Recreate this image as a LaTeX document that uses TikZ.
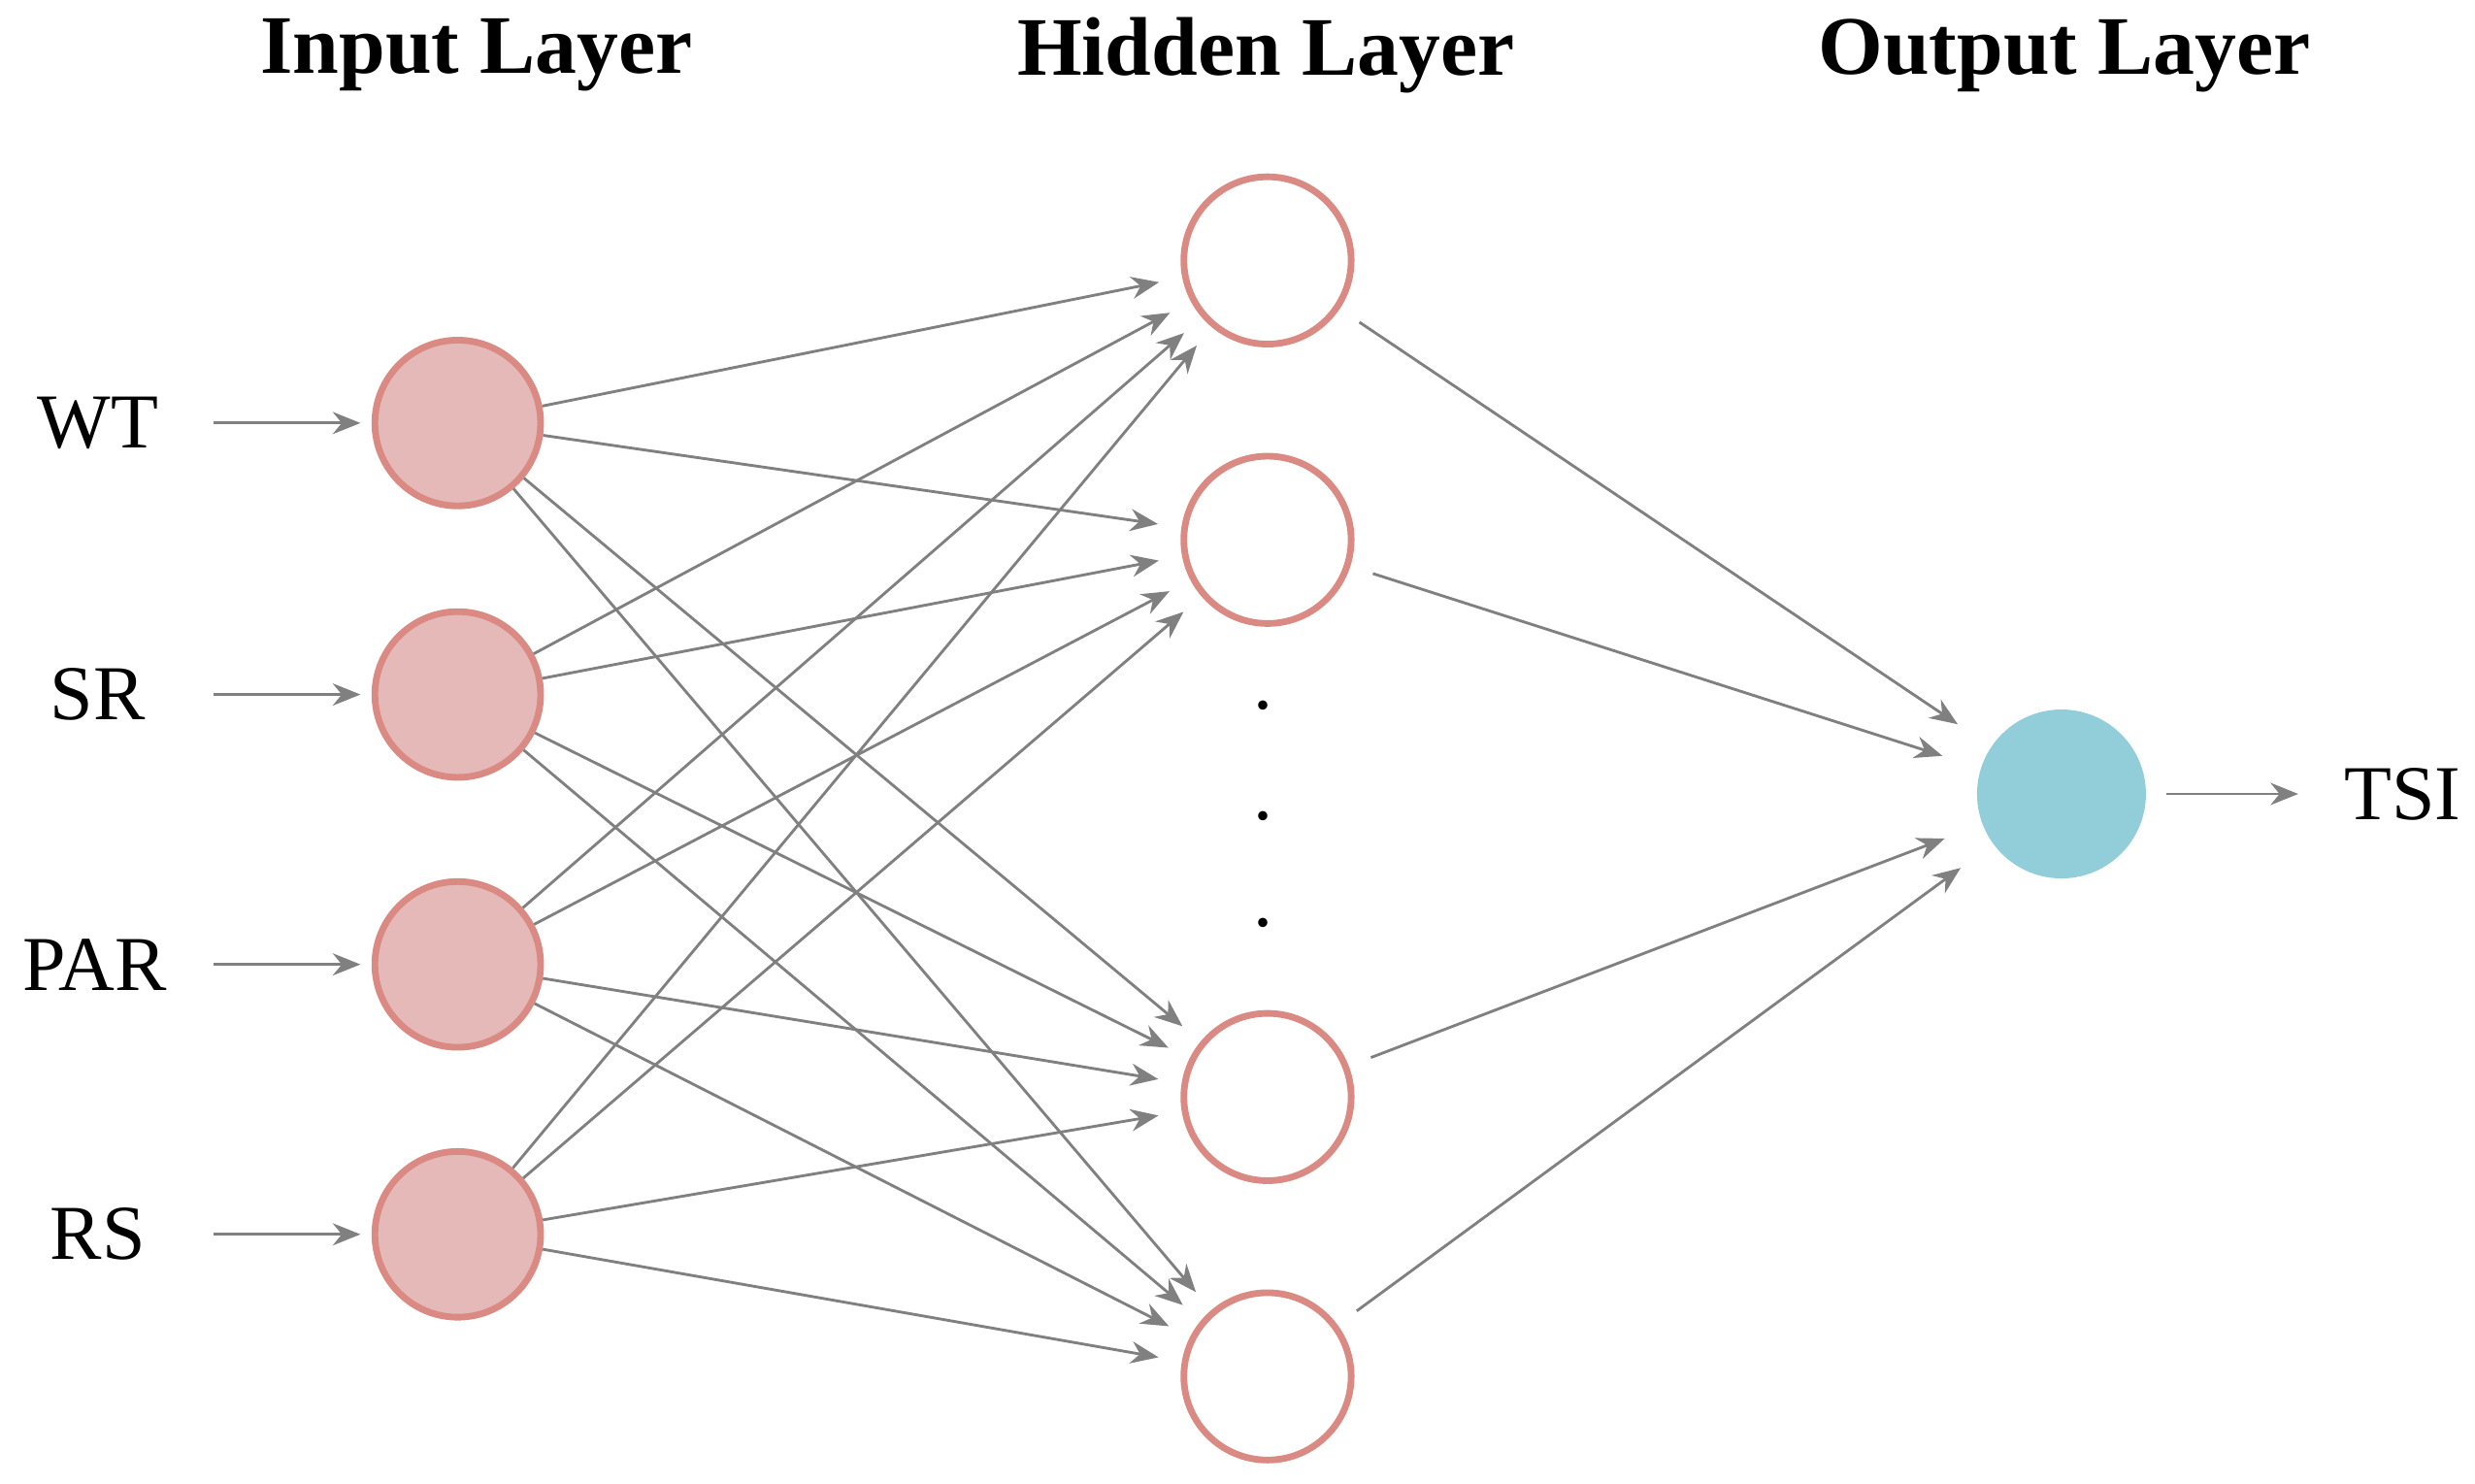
\documentclass[tikz,border=0pt]{standalone}
\usepackage{fontspec}
\setmainfont{Liberation Serif}
\usetikzlibrary{arrows.meta}
\definecolor{inpink}{HTML}{E4B9B7}
\definecolor{rosered}{HTML}{DA8A83}
\definecolor{outblue}{HTML}{92CDDA}
\definecolor{edgegray}{HTML}{808080}
\begin{document}
\begin{tikzpicture}[
    font=\fontsize{14}{16}\selectfont,
    inp/.style={draw=rosered, line width=1.2pt, fill=inpink, circle, minimum size=1.05cm},
    hid/.style={draw=rosered, line width=1.2pt, fill=white, circle, minimum size=1.06cm},
    outp/.style={circle, fill=outblue, minimum size=1.07cm},
    conn/.style={draw=edgegray, line width=0.5pt, -{Stealth[length=5pt,width=4pt]}},
    title/.style={font=\fontsize{15}{17}\selectfont\bfseries}]
        \useasboundingbox (0,0) rectangle (15.68,9.40);

        % Titles
        \node[title] (ti) at (3.02,9.05) {Input Layer};
        \node[title] (th) at (8.02,9.05) {Hidden Layer};
        \node[title] (to) at (13.08,9.05) {Output Layer};

        % Input layer
        \node[inp] (i1) at (2.90,6.72) {};
        \node[inp] (i2) at (2.90,5.00) {};
        \node[inp] (i3) at (2.90,3.29) {};
        \node[inp] (i4) at (2.90,1.58) {};

        \node (l1) at (0.62,6.72) {WT};
        \node (l2) at (0.62,5.00) {SR};
        \node (l3) at (0.60,3.29) {PAR};
        \node (l4) at (0.62,1.58) {RS};
        \coordinate (a1) at (1.35,6.72);
        \coordinate (a2) at (1.35,5.00);
        \coordinate (a3) at (1.35,3.29);
        \coordinate (a4) at (1.35,1.58);

        % Hidden layer
        \node[hid] (h1) at (8.03,7.75) {};
        \node[hid] (h2) at (8.03,5.98) {};
        \node[hid] (h3) at (8.03,2.45) {};
        \node[hid] (h4) at (8.03,0.68) {};
        \node (d1) at (8.00,4.93) {.};
        \node (d2) at (8.00,4.23) {.};
        \node (d3) at (8.00,3.55) {.};

        % Output layer
        \node[outp] (o) at (13.06,4.37) {};
        \node (lo) at (15.22,4.37) {TSI};
        \coordinate (ao) at (14.56,4.37);

        % Draw the edges
        \foreach \k in {1,...,4}
            \draw[conn, shorten >=2pt] (a\k) -- (i\k);
        \foreach \i in {1,...,4}
            \foreach \j in {1,...,4}
                \draw[conn, shorten >=0.15cm] (i\i) -- (h\j);
        \foreach \j in {1,...,4}
            \draw[conn, shorten <=0.15cm, shorten >=0.25cm] (h\j) -- (o);
        \draw[conn, shorten <=0.12cm] (o) -- (ao);
    \end{tikzpicture}
\end{document}
